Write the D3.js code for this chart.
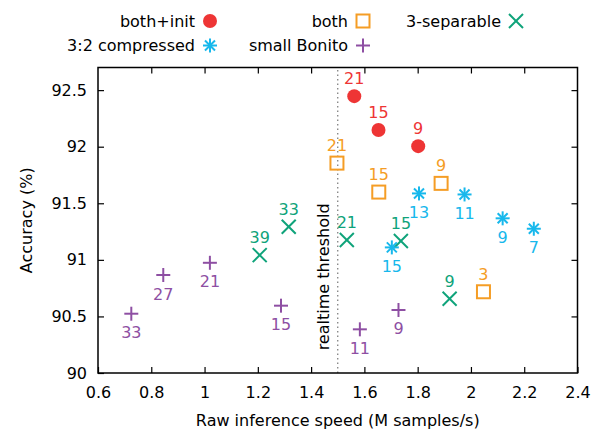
<!DOCTYPE html>
<html>
<head>
<meta charset="utf-8">
<script src="https://cdn.jsdelivr.net/npm/d3@7"></script>
<style>
  body { margin: 0; background: #fff; }
  text { font-family: "DejaVu Sans", sans-serif; font-size: 16px; }
</style>
</head>
<body>
<div id="chart"></div>
<script>
// series: [speed, accuracy, label]
const bothInit = [[1.562, 92.447, '21'], [1.653, 92.147, '15'], [1.802, 92.005, '9']]
const both = [[1.497, 91.855, '21'], [1.654, 91.599, '15'], [1.888, 91.676, '9'], [2.047, 90.718, '3']]
const separable = [[1.207, 91.042, '39'], [1.316, 91.293, '33'], [1.534, 91.175, '21'], [1.737, 91.166, '15'], [1.920, 90.656, '9']]
const compressed = [[1.703, 91.110, '15'], [1.805, 91.587, '13'], [1.976, 91.578, '11'], [2.119, 91.367, '9'], [2.236, 91.275, '7']]
const smallBonito = [[0.725, 90.524, '33'], [0.845, 90.866, '27'], [1.020, 90.974, '21'], [1.287, 90.595, '15'], [1.583, 90.386, '11'], [1.728, 90.557, '9']]

const xTicks = [0.6, 0.8, 1, 1.2, 1.4, 1.6, 1.8, 2, 2.2, 2.4]
const yTicks = [90, 90.5, 91, 91.5, 92, 92.5]
const threshold = 1.5

const series = [
  { name: 'both+init', data: bothInit, color: '#ee3535', shape: 'circle', above: true, row: 0, col: 0 },
  { name: 'both', data: both, color: '#f59d25', shape: 'square', above: true, row: 0, col: 1 },
  { name: '3-separable', data: separable, color: '#0fa37a', shape: 'x', above: true, row: 0, col: 2 },
  { name: '3:2 compressed', data: compressed, color: '#17b8ec', shape: 'star', above: false, row: 1, col: 0 },
  { name: 'small Bonito', data: smallBonito, color: '#8e4fa3', shape: 'plus', above: false, row: 1, col: 1 },
]

const width = 598, height = 429
const margin = { top: 67.5, right: 20.5, bottom: 56, left: 98 }

const svg = d3.select('#chart').append('svg')
  .attr('width', width)
  .attr('height', height)

const x = d3.scaleLinear().domain([0.6, 2.4]).range([margin.left, width - margin.right])
const y = d3.scaleLinear().domain([90, 92.7]).range([height - margin.bottom, margin.top])

// draw a marker of given shape centred at (0,0)
function drawMarker(g, shape, color) {
  const s = 7
  if (shape === 'circle') {
    g.append('circle').attr('r', 7).attr('fill', color)
  } else if (shape === 'square') {
    g.append('rect').attr('x', -6.5).attr('y', -6.5).attr('width', 13).attr('height', 13)
      .attr('fill', 'none').attr('stroke', color).attr('stroke-width', 2)
  } else {
    let segs = []
    if (shape === 'x') segs = [[-s, -s, s, s], [-s, s, s, -s]]
    if (shape === 'plus') segs = [[-s, 0, s, 0], [0, -s, 0, s]]
    if (shape === 'star') segs = [[-s, 0, s, 0], [0, -s, 0, s], [-5, -5, 5, 5], [-5, 5, 5, -5]]
    for (const d of segs) {
      g.append('line').attr('x1', d[0]).attr('y1', d[1]).attr('x2', d[2]).attr('y2', d[3])
        .attr('stroke', color).attr('stroke-width', 2)
    }
  }
}

// threshold line
svg.append('line')
  .attr('x1', x(threshold)).attr('x2', x(threshold))
  .attr('y1', y.range()[0]).attr('y2', y.range()[1])
  .attr('stroke', '#777').attr('stroke-width', 1.2).attr('stroke-dasharray', '1.5,3')

svg.append('text')
  .attr('transform', `translate(${x(threshold) - 8.5},${y(90.2)}) rotate(-90)`)
  .attr('fill', '#000')
  .text('realtime threshold')

// axes (ticks inside, mirrored)
const plotW = x.range()[1] - x.range()[0]
const plotH = y.range()[0] - y.range()[1]
svg.append('g')
  .attr('transform', `translate(0,${y.range()[0]})`)
  .call(d3.axisBottom(x).tickValues(xTicks).tickSize(-6).tickPadding(14).tickFormat(d3.format('')))
svg.append('g')
  .attr('transform', `translate(0,${y.range()[1]})`)
  .call(d3.axisTop(x).tickValues(xTicks.slice(1, -1)).tickSize(-6).tickFormat(''))
svg.append('g')
  .attr('transform', `translate(${x.range()[0]},0)`)
  .call(d3.axisLeft(y).tickValues(yTicks).tickSize(-6).tickPadding(11).tickFormat(d3.format('')))
svg.append('g')
  .attr('transform', `translate(${x.range()[1]},0)`)
  .call(d3.axisRight(y).tickValues(yTicks.slice(1)).tickSize(-6).tickFormat(''))

svg.selectAll('.domain').remove()
svg.selectAll('.tick line').attr('stroke', '#000').attr('stroke-width', 1.2)
svg.selectAll('.tick text').attr('font-size', 16).attr('font-family', '"DejaVu Sans", sans-serif').attr('fill', '#000')

svg.append('rect')
  .attr('x', x.range()[0]).attr('y', y.range()[1])
  .attr('width', plotW).attr('height', plotH)
  .attr('fill', 'none').attr('stroke', '#000').attr('stroke-width', 1.5)

// axis titles
svg.append('text')
  .attr('x', (x.range()[0] + x.range()[1]) / 2)
  .attr('y', 426)
  .attr('text-anchor', 'middle')
  .text('Raw inference speed (M samples/s)')
svg.append('text')
  .attr('transform', `translate(32,${(y.range()[0] + y.range()[1]) / 2}) rotate(-90)`)
  .attr('text-anchor', 'middle')
  .text('Accuracy (%)')

// points and labels
for (const s of series) {
  const g = svg.append('g')
  const pts = g.selectAll('g.pt').data(s.data).enter().append('g')
    .attr('class', 'pt')
    .attr('transform', d => `translate(${x(d[0])},${y(d[1])})`)
  pts.each(function() { drawMarker(d3.select(this), s.shape, s.color) })
  pts.append('text')
    .attr('text-anchor', 'middle')
    .attr('y', s.above ? -12 : 24.5)
    .attr('fill', s.color)
    .text(d => d[2])
}

// legend
const legendTextX = [195, 348, 501]
const legendMarkX = [210, 363, 516]
const legendY = [21, 45.5]
for (const s of series) {
  svg.append('text')
    .attr('x', legendTextX[s.col])
    .attr('y', legendY[s.row] + 5.8)
    .attr('text-anchor', 'end')
    .text(s.name)
  const m = svg.append('g').attr('transform', `translate(${legendMarkX[s.col]},${legendY[s.row]})`)
  drawMarker(m, s.shape, s.color)
}
</script>
</body>
</html>
